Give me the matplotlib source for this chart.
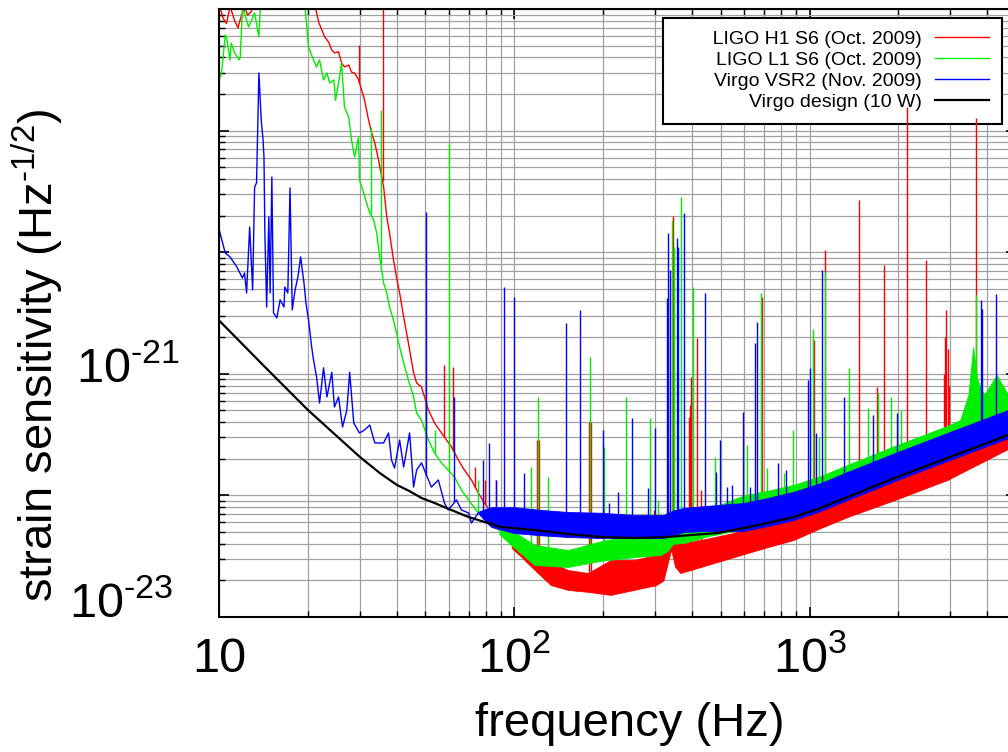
import numpy as np
import matplotlib.pyplot as plt
from matplotlib import transforms
from matplotlib.ticker import LogLocator, NullFormatter

plt.rcParams['font.family'] = ['Liberation Sans', 'DejaVu Sans']
plt.rcParams['mathtext.default'] = 'regular'

# ---- Virgo design (10 W) ----
design_f = [10, 14, 20, 30, 35, 40, 44, 48.5, 53.7, 60, 70, 90, 117, 152, 197, 254, 331, 396,
            489, 598, 721, 883, 1089, 1343, 1983, 2925, 4700, 5000]
design_h = [2.75e-21, 1.2e-21, 5.04e-22, 2.07e-22, 1.53e-22, 1.22e-22, 1.09e-22, 9.52e-23,
            8.66e-23, 7.73e-23, 6.64e-23, 5.50e-23, 5.19e-23, 4.82e-23, 4.55e-23, 4.46e-23,
            4.55e-23, 4.72e-23, 4.91e-23, 5.39e-23, 5.93e-23, 6.64e-23, 7.88e-23, 9.7e-23,
            1.42e-22, 2.03e-22, 3.14e-22, 3.34e-22]

# ---- Virgo VSR2 (blue) ----
vsr2_f = [10.0, 10.5, 10.9, 11.5, 12.0, 12.2, 12.4, 12.7, 13.0, 13.2, 13.4, 13.65, 13.9, 14.1,
          14.2, 14.3, 14.5, 14.75, 14.9, 15.1, 15.3, 15.7, 16.1, 16.6, 16.7, 17.1, 17.4, 17.7,
          18.1, 18.5, 18.9, 19.4, 19.7, 20.1, 20.6, 20.9, 21.4, 21.9, 22.6, 23.2, 24.1, 24.6,
          25.4, 26.2, 27.1, 27.7, 28.6, 29.9, 31.1, 32.4, 33.7, 36.1, 37.5, 38.4, 39.3, 40.9,
          42.2, 44.2, 45.6, 46.7, 48.5, 52.4, 55.3, 58.0, 59.8, 63.7, 66.2, 70.0, 71.6, 75.5]
vsr2_h = [1.55e-20, 9.85e-21, 9.14e-21, 7.55e-21, 6.14e-21, 6.75e-21, 4.62e-21, 1.61e-20,
          4.89e-21, 3.44e-20, 3.71e-20, 2.98e-19, 1.22e-19, 8.37e-20, 6.07e-20, 1.44e-20,
          3.54e-21, 1.95e-20, 4.62e-21, 4.15e-20, 3.16e-21, 2.88e-21, 4.05e-21, 3.54e-21,
          5.17e-21, 4.62e-21, 3.37e-20, 3.35e-21, 4.89e-21, 6.25e-21, 9.14e-21, 5.58e-21,
          3.82e-21, 2.77e-21, 1.66e-21, 1.30e-21, 9.42e-22, 5.75e-22, 1.12e-21, 6.45e-22,
          1.03e-21, 5.33e-22, 6.45e-22, 3.65e-22, 5.04e-22, 1.03e-21, 3.94e-22, 3.26e-22,
          3.45e-22, 3.79e-22, 2.70e-22, 2.70e-22, 3.26e-22, 1.95e-22, 1.68e-22, 2.85e-22,
          1.71e-22, 3.26e-22, 1.17e-22, 1.62e-22, 1.85e-22, 1.17e-22, 1.34e-22, 8.66e-23,
          7.59e-23, 9.17e-23, 7.59e-23, 7.17e-23, 5.93e-23, 7.17e-23]
vsr2_band_f = [76, 83.6, 100, 123, 152, 197, 254, 320, 345, 375, 450, 598, 721, 883, 1089, 1343,
               1983, 2925, 4700, 5000]
vsr2_band_lo = [7.0e-23, 5.5e-23, 4.9e-23, 4.7e-23, 4.55e-23, 4.46e-23, 4.46e-23, 4.46e-23,
                4.7e-23, 5.0e-23, 5.1e-23, 5.1e-23, 5.6e-23, 6.28e-23, 7.45e-23, 9.17e-23,
                1.34e-22, 1.92e-22, 2.96e-22, 3.14e-22]
vsr2_band_hi = [7.4e-23, 8.0e-23, 8.0e-23, 7.6e-23, 7.3e-23, 7.2e-23, 6.9e-23, 6.9e-23,
                7.5e-23, 7.9e-23, 8.2e-23, 8.66e-23, 9.52e-23, 1.07e-22, 1.26e-22, 1.56e-22,
                2.27e-22, 3.26e-22, 5.04e-22, 5.33e-22]
vsr2_line_f = [50.4, 62.7, 78.6, 82.3, 86.9, 92.5, 100, 108, 150, 167, 200, 209, 225, 250, 284,
               299, 329, 331, 337, 355, 358, 375, 442, 481, 496, 525, 545, 594, 627, 652, 662,
               780, 829, 985, 1000, 1048, 1099, 1303, 1645, 1983, 3811, 3840, 4285]
vsr2_line_h = [2.14e-20, 6.45e-22, 1.95e-22, 2.70e-22, 1.34e-22, 5.17e-21, 4.28e-21, 1.53e-22,
               2.62e-21, 3.35e-21, 3.45e-22, 8.66e-23, 1.07e-22, 4.33e-22, 1.15e-22, 3.58e-22,
               4.20e-21, 1.44e-20, 7.14e-21, 1.31e-20, 1.10e-20, 2.10e-20, 4.62e-21, 1.56e-22,
               2.85e-22, 1.17e-22, 1.22e-22, 4.85e-22, 1.17e-22, 1.79e-21, 2.67e-21, 1.85e-22,
               1.62e-22, 8.89e-22, 1.12e-21, 3.26e-22, 7.14e-21, 6.45e-22, 4.58e-22, 4.76e-22,
               4.05e-21, 3.4e-21, 4.53e-21]

# ---- LIGO L1 S6 (green) ----
l1_f = [10.0, 10.2, 10.5, 10.6, 10.9, 11.0, 11.3, 11.7, 11.8, 12.0, 12.1, 12.2, 12.6, 12.9,
        13.2, 13.65, 14.0, 19.3, 19.6, 20.1, 20.9, 21.4, 21.9, 22.6, 23.2, 23.7, 24.5, 24.8,
        25.4, 26.0, 26.6, 27.5, 28.1, 28.8, 29.7, 29.9, 30.9, 31.6, 32.4, 33.4, 34.2, 35.0,
        36.1, 37.0, 37.8, 39.0, 40.6, 42.2, 43.8, 45.6, 46.7, 48.5, 51.2, 53.7, 56.7, 62.7,
        66.2, 70.0, 75.5, 81.7, 88.3]
l1_h = [2.6e-19, 2.98e-19, 6.11e-19, 5.89e-19, 3.81e-19, 5.25e-19, 4.35e-19, 3.81e-19, 4.03e-19,
        9.8e-19, 2e-18, 9.27e-19, 7.11e-19, 8.12e-19, 9.27e-19, 5.89e-19, 2e-18, 2e-18, 9.8e-19,
        4.87e-19, 3.81e-19, 3.34e-19, 3.81e-19, 2.61e-19, 2.98e-19, 2.46e-19, 2.61e-19, 1.77e-19,
        2.46e-19, 3.60e-19, 1.56e-19, 1.29e-19, 8.37e-20, 6.07e-20, 8.86e-20, 3.92e-20, 3.07e-20,
        2.54e-20, 2.10e-20, 1.84e-20, 1.44e-20, 9.14e-21, 5.58e-21, 4.62e-21, 3.54e-21, 2.77e-21,
        1.79e-21, 1.23e-21, 8.89e-22, 6.45e-22, 4.76e-22, 4.16e-22, 2.85e-22, 2.23e-22, 1.85e-22,
        1.42e-22, 1.11e-22, 9.17e-23, 7.17e-23, 6.28e-23, 5.19e-23]
l1_band_f = [89, 97.7, 117, 152, 197, 254, 314, 331, 345, 375, 450, 598, 721, 883, 1089, 1343,
             1983, 2925, 3235, 3450, 3580, 3700, 3900, 4100, 4300, 4700, 5000]
l1_band_lo = [4.8e-23, 3.9e-23, 2.68e-23, 2.58e-23, 2.9e-23, 3.11e-23, 3.24e-23, 3.5e-23, 4.0e-23,
              4.06e-23, 4.6e-23, 5.3e-23, 5.8e-23, 6.5e-23, 7.7e-23, 9.4e-23, 1.37e-22, 1.95e-22,
              2.1e-22, 2.3e-22, 2.4e-22, 2.5e-22, 2.6e-22, 2.7e-22, 2.8e-22, 3.0e-22, 3.2e-22]
l1_band_hi = [5.4e-23, 5.19e-23, 3.91e-23, 3.55e-23, 4.2e-23, 4.72e-23, 4.9e-23, 5.5e-23, 5.8e-23,
              5.71e-23, 7.6e-23, 1.0e-22, 1.09e-22, 1.22e-22, 1.44e-22, 1.78e-22, 2.60e-22,
              3.72e-22, 4.16e-22, 6.7e-22, 1.66e-21, 8.9e-22, 6.7e-22, 8.1e-22, 9.8e-22, 6.7e-22,
              6.07e-22]
l1_line_f = [32.6, 35.3, 50.4, 53.7, 60.3, 75.5, 114, 120, 130, 181, 201, 239, 288, 306, 342,
             348, 367, 403, 478, 612, 683, 716, 817, 877, 1024, 1072, 1132, 1355, 1571, 1711,
             1892, 2046, 3664]
l1_line_h = [1.07e-19, 1.48e-19, 6.09e-22, 3.45e-22, 7.91e-20, 1.34e-22, 1.71e-22, 6.45e-22,
             1.42e-22, 1.37e-21, 2.50e-22, 6.45e-22, 4.33e-22, 9.17e-23, 1.84e-20, 1.10e-20,
             2.84e-20, 5.17e-21, 2.07e-22, 2.60e-22, 4.62e-21, 1.68e-22, 1.53e-22, 3.45e-22,
             2.34e-21, 3.02e-22, 6.87e-21, 1.12e-21, 5.23e-22, 6.95e-22, 6.45e-22, 5.04e-22,
             4.45e-21]

# ---- LIGO H1 S6 (red) ----
h1_f = [10.0, 10.3, 10.6, 10.9, 11.3, 11.6, 11.8, 12.2, 12.5, 12.9, 13.2, 21.0, 21.3, 21.8, 22.3,
        22.8, 23.5, 24.1, 24.6, 25.4, 26.0, 26.6, 27.5, 28.1, 28.8, 29.7, 30.4, 31.1, 32.1, 32.9,
        33.7, 34.7, 36.1, 37.0, 37.8, 39.0, 39.9, 40.9, 42.2, 43.8, 45.6, 46.7, 48.5, 51.2,
        53.7, 56.7, 61.3, 64.7, 67.7, 71.6, 75.5, 79.2, 83.6, 90.4, 97.7]
h1_h = [1.1e-18, 8.5e-19, 7.6e-19, 1.05e-18, 8.0e-19, 7.0e-19, 8.2e-19, 1.05e-18, 8.9e-19, 9.6e-19,
        2e-18, 2e-18, 9.8e-19, 7.67e-19, 6.72e-19, 5.89e-19, 5.35e-19, 4.60e-19, 4.35e-19, 4.45e-19,
        3.60e-19, 3.34e-19, 3.46e-19, 3.03e-19, 2.97e-19, 2.61e-19, 2.16e-19, 1.79e-19, 1.22e-19,
        9.55e-20, 7.91e-20, 5.73e-20, 3.44e-20, 1.95e-20, 1.44e-20, 8.63e-21, 6.25e-21, 4.62e-21,
        2.93e-21, 1.79e-21, 1.02e-21, 8.40e-22, 7.79e-22, 5.04e-22, 3.94e-22, 3.26e-22, 2.50e-22,
        1.95e-22, 1.62e-22, 1.34e-22, 1.05e-22, 8.66e-23, 7.17e-23, 5.50e-23, 4.30e-23]
h1_band_f = [98, 106, 114, 133, 152, 178, 212, 254, 302, 320, 331, 340, 350, 365, 428, 554, 721,
             883, 1089, 1343, 1983, 2925, 4700, 5000]
h1_band_lo = [3.7e-23, 3.1e-23, 2.6e-23, 1.83e-23, 1.67e-23, 1.61e-23, 1.52e-23, 1.67e-23,
              1.83e-23, 2.0e-23, 2.8e-23, 3.6e-23, 2.6e-23, 2.3e-23, 2.58e-23, 3.11e-23, 3.76e-23,
              4.30e-23, 5.39e-23, 6.64e-23, 9.34e-23, 1.34e-22, 2.41e-22, 2.55e-22]
h1_band_hi = [5.0e-23, 4.3e-23, 3.7e-23, 2.83e-23, 2.43e-23, 2.30e-23, 2.94e-23, 2.94e-23,
              3.24e-23, 3.6e-23, 4.8e-23, 5.0e-23, 4.4e-23, 4.0e-23, 4.30e-23, 4.91e-23, 5.93e-23,
              6.64e-23, 7.88e-23, 9.7e-23, 1.42e-22, 2.03e-22, 3.14e-22, 3.34e-22]
h1_line_f = [29.9, 35.8, 50.4, 58.0, 62.2, 73.8, 79.8, 86.9, 119, 121, 179, 182, 297, 344, 390,
             393, 396, 415, 428, 688, 1032, 1132, 1465, 1697, 1791, 2143, 2485, 2850, 2880,
             2904, 2935, 2960, 3664]
h1_line_h = [5.06e-19, 2e-18, 5.04e-22, 1.18e-21, 1.14e-21, 1.71e-22, 1.34e-22, 1.34e-22,
             2.85e-22, 2.85e-22, 4.02e-22, 4.02e-22, 7.59e-23, 1.99e-20, 4.41e-22, 5.54e-22,
             9.42e-22, 1.97e-21, 1.11e-22, 4.28e-21, 1.90e-21, 1.04e-20, 2.69e-20, 7.79e-22,
             7.85e-21, 1.56e-19, 8.63e-21, 1.0e-21, 2.0e-21, 3.35e-21, 1.6e-21, 8.0e-22, 1.27e-19]

xtick_vals = [10, 100, 1000]
xtick_text = ['10', '$10^{2}$', '$10^{3}$']
ytick_vals = [1e-21, 1e-23]
ytick_text = ['$10^{\u201021}$', '$10^{\u201023}$']


def draw_detector(ax, f, h, band_f, band_lo, band_hi, line_f, line_h, color, label, z):
    f, h = np.array(f), np.array(h)
    band_f, band_lo = np.array(band_f), np.array(band_lo)
    ax.plot(f, h, color=color, lw=1.0, zorder=z, label=label)
    ax.fill_between(band_f, band_lo, band_hi, color=color, lw=0.6, zorder=z)
    # spectral lines start from the floor of the noise curve
    keep = f < band_f[0]
    floor_f = np.concatenate([f[keep], band_f])
    floor_h = np.concatenate([h[keep], band_lo])
    base = 10 ** np.interp(np.log10(line_f), np.log10(floor_f), np.log10(floor_h))
    ax.vlines(line_f, base, line_h, color=color, lw=1.0, zorder=z)


fig = plt.figure(figsize=(10.08, 7.52), dpi=100)
ax = fig.add_axes([219 / 1008, 1 - 617 / 752, (1016 - 219) / 1008, 608 / 752])
ax.set_xscale('log')
ax.set_yscale('log')

# leading blanks widen the legend box on the left, as in the original
draw_detector(ax, h1_f, h1_h, h1_band_f, h1_band_lo, h1_band_hi, h1_line_f, h1_line_h,
              '#ff0000', '       LIGO H1 S6 (Oct. 2009)', 2.0)
draw_detector(ax, l1_f, l1_h, l1_band_f, l1_band_lo, l1_band_hi, l1_line_f, l1_line_h,
              '#00ee00', 'LIGO L1 S6 (Oct. 2009)', 2.1)
draw_detector(ax, vsr2_f, vsr2_h, vsr2_band_f, vsr2_band_lo, vsr2_band_hi, vsr2_line_f, vsr2_line_h,
              '#0000ff', 'Virgo VSR2 (Nov. 2009)', 2.2)
ax.plot(design_f, design_h, color='black', lw=1.6, zorder=2.3, label='Virgo design (10 W)')

ax.set_xlim(10, 5000)
ax.set_ylim(1e-23, 1e-18)

for axis in (ax.xaxis, ax.yaxis):
    axis.set_major_locator(LogLocator(base=10, numticks=20))
    axis.set_minor_locator(LogLocator(base=10, subs=np.arange(2, 10), numticks=50))
    axis.set_major_formatter(NullFormatter())
    axis.set_minor_formatter(NullFormatter())
ax.grid(True, which='both', color='#a0a0a0', lw=0.9)
ax.tick_params(which='both', direction='in', top=True, right=True, color='black')
ax.tick_params(which='major', length=7, width=1.2)
ax.tick_params(which='minor', length=4, width=1.0)
for side in ('left', 'top', 'bottom'):
    ax.spines[side].set_linewidth(1.5)

# tick labels placed by hand so that the plain "10" and the powers share a baseline
xlab_tr = transforms.offset_copy(ax.get_xaxis_transform(), fig=fig, y=-55, units='dots')
for v, s in zip(xtick_vals, xtick_text):
    ax.text(v, 0, s, transform=xlab_tr, ha='center', va='baseline', fontsize=35)
for v, s, dx, dy in zip(ytick_vals, ytick_text, [-39, -46], [-8, 0]):
    tr = transforms.offset_copy(ax.get_yaxis_transform(), fig=fig, x=dx, y=dy, units='dots')
    ax.text(0, v, s, transform=tr, ha='right', va='baseline', fontsize=35)

ax.set_xlabel('frequency (Hz)', fontsize=34, va='center')
ax.xaxis.set_label_coords(0.5157, -0.176)
ax.set_ylabel('strain sensitivity (Hz$^{\u20101/2}$)', fontsize=34, va='center')
ax.yaxis.set_label_coords(-0.2284, 0.431)

leg = ax.legend(loc='upper right', bbox_to_anchor=(1002 / 1008, 1 - 18 / 752),
                bbox_transform=fig.transFigure, borderaxespad=0,
                markerfirst=False, fontsize=14, handlelength=2.8, handletextpad=0.66,
                labelspacing=0.17, borderpad=0.65, fancybox=False, framealpha=1,
                edgecolor='black')
leg.get_frame().set_linewidth(1.5)
leg.set_zorder(1.8)

fig.savefig('out.png', dpi=100)
